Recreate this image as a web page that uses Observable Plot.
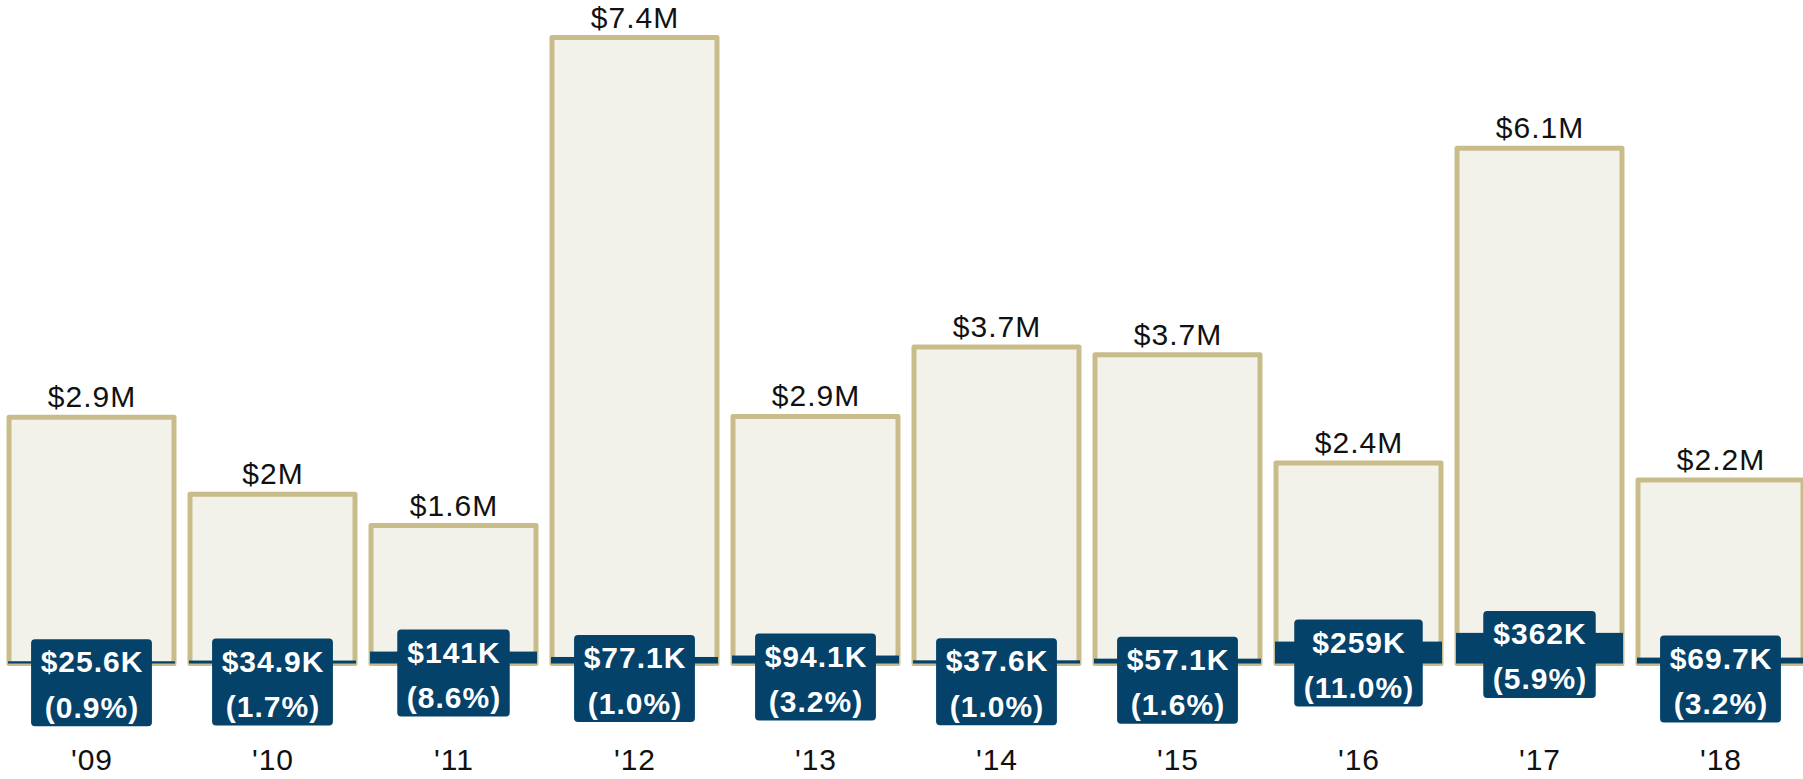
<!DOCTYPE html>
<html>
<head>
<meta charset="utf-8">
<script src="https://cdn.jsdelivr.net/npm/d3@7"></script>
<script src="https://cdn.jsdelivr.net/npm/@observablehq/plot@0.6"></script>
<style>
  html, body { margin: 0; padding: 0; background: #ffffff; overflow: hidden; }
</style>
</head>
<body>
<div id="chart"></div>
<script>
// ---- data ----
const years = ["'09", "'10", "'11", "'12", "'13", "'14", "'15", "'16", "'17", "'18"];
const totalM = [2.91, 2.0, 1.63, 7.4, 2.92, 3.74, 3.65, 2.37, 6.09, 2.17];       // total, $M
const partK = [25.6, 34.9, 141, 77.1, 94.1, 37.6, 57.1, 259, 362, 69.7];          // highlighted part, $K
const sharePct = [0.9, 1.7, 8.6, 1.0, 3.2, 1.0, 1.6, 11.0, 5.9, 3.2];             // share, %

// ---- styling ----
const navy = "#04426a";
const tan = "#c8bd8a";
const cream = "#f3f2ea";
const fontFamily = "'Liberation Sans', Arial, Helvetica, sans-serif";
const fontSize = 30;
const letterSpacing = 1;

const rows = years.map((year, i) => ({
  year,
  total: totalM[i],
  part: partK[i] / 1000,
  totalLabel: "$" + (Math.round(totalM[i] * 10) / 10) + "M",
  partLabel: "$" + d3.format(".3r")(partK[i]) + "K",
  pctLabel: "(" + sharePct[i].toFixed(1) + "%)"
}));

// measure label widths for the navy boxes
const ctx = document.createElement("canvas").getContext("2d");
ctx.font = `bold ${fontSize}px ${fontFamily}`;
const measure = (s) => ctx.measureText(s).width + letterSpacing * (s.length - 1);
rows.forEach(r => { r.boxW = Math.max(measure(r.partLabel), measure(r.pctLabel)) + 19; });

const xRange = [0, 1812];
const paddingInner = 0.09, paddingOuter = 0.045;
const bw = d3.scaleBand(years, xRange).paddingInner(paddingInner).paddingOuter(paddingOuter).bandwidth();

const boxMarks = rows.map(r => Plot.barY([r], {
  x: "year", y1: "part", y2: "part",
  fill: navy, rx: 4,
  insetLeft: (bw - r.boxW) / 2, insetRight: (bw - r.boxW) / 2,
  insetTop: -22, insetBottom: -65
}));

const chart = Plot.plot({
  width: 1803,
  height: 779,
  marginTop: 37.5,
  marginBottom: 115.5,
  marginLeft: 0,
  marginRight: 0,
  style: { fontFamily, fontSize: fontSize + "px", color: "#111", background: "#fff", letterSpacing: letterSpacing + "px", overflow: "visible" },
  x: { domain: years, range: xRange, paddingInner, paddingOuter, label: null },
  y: { domain: [0, 7.4], axis: null },
  marks: [
    Plot.barY(rows, { x: "year", y: "total", fill: cream, stroke: tan, strokeWidth: 5, strokeLinejoin: "round" }),
    Plot.barY(rows, { x: "year", y: "part", fill: navy, insetLeft: -1, insetRight: -1 }),
    ...boxMarks,
    Plot.text(rows, { x: "year", y: "part", text: "partLabel", fill: "white", fontWeight: "bold", fontSize, lineAnchor: "middle", dy: 1 }),
    Plot.text(rows, { x: "year", y: "part", text: "pctLabel", fill: "white", fontWeight: "bold", fontSize, lineAnchor: "middle", dy: 46.5 }),
    Plot.text(rows, { x: "year", y: "total", text: "totalLabel", fill: "#111", fontSize, lineAnchor: "bottom", dy: -10.5 }),
    Plot.axisX({ tickSize: 0, tickPadding: 85, fontSize, label: null })
  ]
});
document.getElementById("chart").appendChild(chart);
</script>
</body>
</html>
